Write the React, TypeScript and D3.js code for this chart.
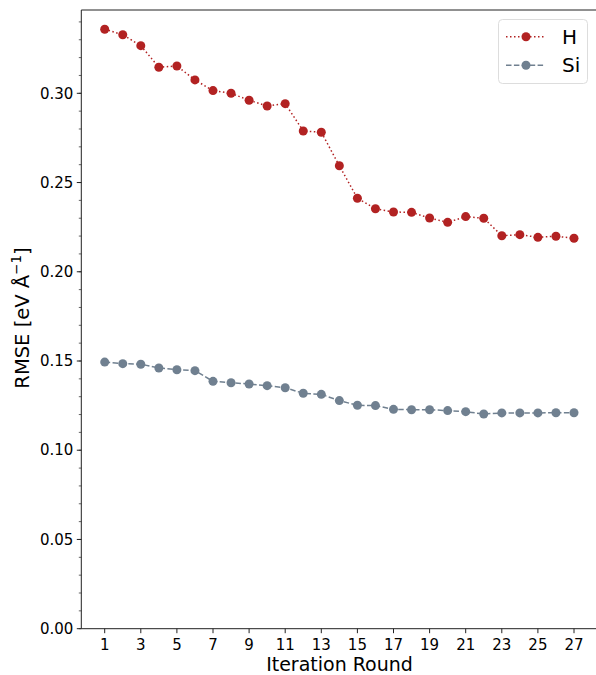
import * as d3 from 'd3';

// данные
const rounds = d3.range(1, 28);
const hRmse = [
  0.3359, 0.3328, 0.3267, 0.3146, 0.3153, 0.3075, 0.3015, 0.3000, 0.2961, 0.2929,
  0.2942, 0.2789, 0.2782, 0.2594, 0.2412, 0.2353, 0.2335, 0.2333, 0.2301, 0.2277,
  0.2309, 0.2300, 0.2202, 0.2208, 0.2193, 0.2199, 0.2188,
];
const siRmse = [
  0.1494, 0.1485, 0.1482, 0.1461, 0.1451, 0.1446, 0.1386, 0.1378, 0.1371, 0.1362,
  0.1350, 0.1319, 0.1313, 0.1278, 0.1252, 0.1250, 0.1229, 0.1227, 0.1227, 0.1222,
  0.1216, 0.1203, 0.1209, 0.1209, 0.1209, 0.1210, 0.1210,
];
const xTicks = d3.range(1, 28, 2);
const yTicks = [0, 0.05, 0.1, 0.15, 0.2, 0.25, 0.3];
const yMinorTicks = d3.range(0, 35).map(d => d / 100);

const series = [
  { name: 'H', values: hRmse, color: '#b22222', dash: '1.5,2.5' },
  { name: 'Si', values: siRmse, color: '#708090', dash: '5.5,2.4' },
];

const width = 596;
const height = 675;
const left = 81.3;
const top = 10;
const bottom = 628.7;
const font = 'DejaVu Sans, sans-serif';

export default function App() {
  const x = d3.scaleLinear().domain([1, 27]).range([104.7, 574]);
  const y = d3.scaleLinear().domain([0, 0.3]).range([bottom, 93.3]);

  const line = d3.line<number>()
    .x((_, i) => x(rounds[i]))
    .y(d => y(d));

  return (
    <svg width={width} height={height} style={{ position: 'absolute', left: 0, top: 0 }} fontFamily={font}>
      <rect width={width} height={height} fill="white" />

      {/* линии и маркеры */}
      {series.map(s => (
        <g key={s.name}>
          <path d={line(s.values) || ''} fill="none" stroke={s.color} strokeWidth={1.5} strokeDasharray={s.dash} />
          {s.values.map((v, i) => (
            <circle key={i} cx={x(rounds[i])} cy={y(v)} r={4.5} fill={s.color} />
          ))}
        </g>
      ))}

      {/* оси */}
      <line x1={left} x2={width} y1={top} y2={top} stroke="#222" strokeWidth={1} />
      <line x1={left} x2={width} y1={bottom} y2={bottom} stroke="#222" strokeWidth={1} />
      <line x1={left} x2={left} y1={top} y2={bottom} stroke="#222" strokeWidth={1} />

      {yMinorTicks.map(t => (
        <line key={'m' + t} x1={left - 2.5} x2={left} y1={y(t)} y2={y(t)} stroke="#222" strokeWidth={0.7} />
      ))}
      {yTicks.map(t => (
        <g key={'y' + t}>
          <line x1={left - 4.5} x2={left} y1={y(t)} y2={y(t)} stroke="#222" strokeWidth={1} />
          <text x={left - 8} y={y(t)} dy="0.35em" textAnchor="end" fontSize={15}>{t.toFixed(2)}</text>
        </g>
      ))}
      {xTicks.map(t => (
        <g key={'x' + t}>
          <line x1={x(t)} x2={x(t)} y1={bottom} y2={bottom + 4.5} stroke="#222" strokeWidth={1} />
          <text x={x(t)} y={649.5} textAnchor="middle" fontSize={15}>{t}</text>
        </g>
      ))}

      <text x={339.5} y={671} textAnchor="middle" fontSize={19}>Iteration Round</text>
      <text transform={`translate(29,318) rotate(-90)`} textAnchor="middle" fontSize={19.5}>
        RMSE [eV Å<tspan dy={-8} fontSize={13.5}>−1</tspan><tspan dy={8}>]</tspan>
      </text>

      {/* легенда */}
      <rect x={498.5} y={19.5} width={89} height={64} rx={4} fill="white" stroke="#ddd" strokeWidth={1} />
      {series.map((s, i) => {
        const ly = 36.7 + i * 28.5;
        return (
          <g key={'l' + s.name}>
            <line x1={506} x2={545} y1={ly} y2={ly} stroke={s.color} strokeWidth={1.5} strokeDasharray={s.dash} />
            <circle cx={526} cy={ly} r={4.5} fill={s.color} />
            <text x={562} y={ly} dy="0.36em" fontSize={20}>{s.name}</text>
          </g>
        );
      })}
    </svg>
  );
}
